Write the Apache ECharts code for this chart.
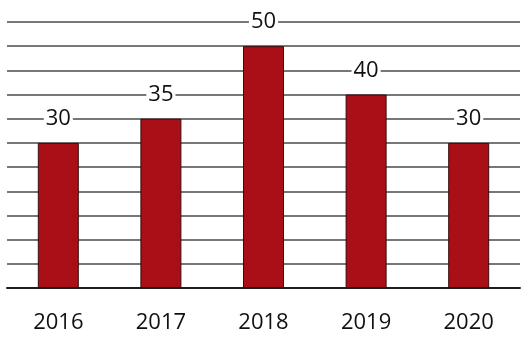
<!DOCTYPE html>
<html>
<head>
<meta charset="utf-8">
<script src="https://cdn.jsdelivr.net/npm/echarts@6/dist/echarts.min.js"></script>
<style>
  html, body { margin: 0; padding: 0; background: #ffffff; }
  #chart { width: 522px; height: 340px; }
</style>
</head>
<body>
<div id="chart"></div>
<script>
// Yearly values shown as bars
const years = ['2016', '2017', '2018', '2019', '2020'];
const values = [30, 35, 50, 40, 30];

// Value axis range (unlabelled, gridlines only)
const yMin = 0;
const yMax = 55;
const yStep = 5;

const chart = echarts.init(document.getElementById('chart'), null, { renderer: 'canvas' });

chart.setOption({
  backgroundColor: '#ffffff',
  animation: false,
  grid: { left: 7, right: 2, top: 22, bottom: 52 },
  xAxis: {
    type: 'category',
    data: years,
    axisLine: { lineStyle: { color: '#1e1e1e', width: 2 } },
    axisTick: { show: false },
    axisLabel: {
      color: '#111111',
      fontFamily: 'Open Sans',
      fontWeight: 500,
      fontSize: 22,
      margin: 24
    }
  },
  yAxis: {
    type: 'value',
    min: yMin,
    max: yMax,
    interval: yStep,
    axisLine: { show: false },
    axisTick: { show: false },
    axisLabel: { show: false },
    splitLine: { lineStyle: { color: '#4a4a4a', width: 1.6 } }
  },
  series: [{
    type: 'bar',
    data: values,
    barWidth: 41,
    itemStyle: {
      color: '#a80f17',
      borderColor: '#3c0a0c',
      borderWidth: 1
    },
    label: {
      show: true,
      position: 'top',
      distance: 13,
      color: '#111111',
      fontFamily: 'Open Sans',
      fontWeight: 500,
      fontSize: 22,
      backgroundColor: '#ffffff',
      padding: [0, 2]
    }
  }]
});
</script>
</body>
</html>
